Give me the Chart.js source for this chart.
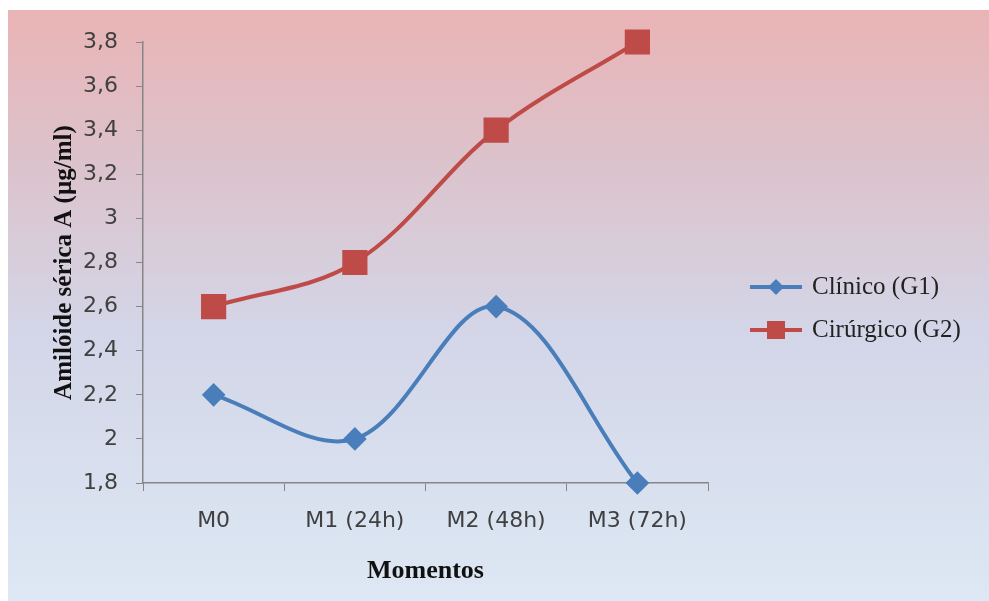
<!DOCTYPE html>
<html>
<head>
<meta charset="utf-8">
<script src="https://cdn.jsdelivr.net/npm/chart.js@4"></script>
<style>
  html, body { margin:0; padding:0; background:#fff; }
  #wrap { width:989px; height:601px; }
</style>
</head>
<body>
<div id="wrap"><canvas id="myChart" width="989" height="601"></canvas></div>
<script>
// data
const categories = ["M0", "M1 (24h)", "M2 (48h)", "M3 (72h)"];
const clinico = [2.2, 2.0, 2.6, 1.8];
const cirurgico = [2.6, 2.8, 3.4, 3.8];
const seriesNames = ["Clínico (G1)", "Cirúrgico (G2)"];
const yMin = 1.8, yMax = 3.8, yStep = 0.2;

const blue = "#4a7ebb";
const red = "#be4b48";

// gradient panel behind everything
const bgPlugin = {
  id: "bg",
  beforeDraw(chart){
    const ctx = chart.ctx;
    ctx.save();
    ctx.fillStyle = "#fff";
    ctx.fillRect(0, 0, chart.width, chart.height);
    const g = ctx.createLinearGradient(0, 10, 0, chart.height);
    g.addColorStop(0, "#eab4b5");
    g.addColorStop(0.25, "#dcc2cb");
    g.addColorStop(0.55, "#d3d6e8");
    g.addColorStop(1, "#dde8f4");
    ctx.fillStyle = g;
    ctx.fillRect(8, 10, chart.width - 8, chart.height - 10);
    ctx.restore();
  }
};

// legend with a line through the marker, like the original
const legendPlugin = {
  id: "sideLegend",
  afterDraw(chart){
    const ctx = chart.ctx;
    const x0 = 750, rows = [287, 330];
    chart.data.datasets.forEach((ds, i) => {
      const y = rows[i];
      ctx.save();
      ctx.strokeStyle = ds.borderColor;
      ctx.lineWidth = 4;
      ctx.beginPath();
      ctx.moveTo(x0, y);
      ctx.lineTo(x0 + 52, y);
      ctx.stroke();
      ctx.fillStyle = ds.pointBackgroundColor;
      ctx.beginPath();
      if (ds.pointStyle === "rect") {
        ctx.rect(x0 + 26 - 9, y - 9, 18, 18);
      } else {
        ctx.moveTo(x0 + 26, y - 8);
        ctx.lineTo(x0 + 34, y);
        ctx.lineTo(x0 + 26, y + 8);
        ctx.lineTo(x0 + 18, y);
        ctx.closePath();
      }
      ctx.fill();
      ctx.fillStyle = "#222";
      ctx.font = "25px 'Liberation Serif'";
      ctx.textBaseline = "middle";
      ctx.fillText(ds.label, x0 + 62, y);
      ctx.restore();
    });
  }
};

function fmt(v){
  return String(Number(v.toFixed(1))).replace(".", ",");
}

const ctx = document.getElementById("myChart").getContext("2d");
new Chart(ctx, {
  type: "line",
  data: {
    labels: categories,
    datasets: [
      {
        label: seriesNames[0],
        data: clinico,
        borderColor: blue,
        backgroundColor: blue,
        pointBackgroundColor: blue,
        pointBorderColor: blue,
        pointStyle: "rectRot",
        pointRadius: 9,
        borderWidth: 4,
        tension: 0.35,
        clip: false
      },
      {
        label: seriesNames[1],
        data: cirurgico,
        borderColor: red,
        backgroundColor: red,
        pointBackgroundColor: red,
        pointBorderColor: red,
        pointStyle: "rect",
        pointRadius: 15,
        borderWidth: 4,
        tension: 0.35,
        clip: false
      }
    ]
  },
  options: {
    responsive: false,
    animation: false,
    layout: { padding: { top: 42, right: 281, left: 0, bottom: 0 } },
    plugins: { legend: { display: false }, tooltip: { enabled: false } },
    scales: {
      x: {
        offset: true,
        afterFit(s){ s.height = 118; },
        grid: { display: true, drawOnChartArea: false, offset: true, tickLength: 8, color: "#868686" },
        border: { color: "#868686", width: 1.5 },
        ticks: { color: "#404040", font: { family: "DejaVu Sans", size: 22 }, padding: 17 },
        title: {
          display: true, text: "Momentos", color: "#111",
          font: { family: "Liberation Serif", size: 26, weight: "bold" },
          padding: { top: 0, bottom: 14 }
        }
      },
      y: {
        min: yMin, max: yMax,
        afterFit(s){ s.width = 143; },
        grid: { display: true, drawOnChartArea: false, tickLength: 7, color: "#868686" },
        border: { color: "#868686", width: 1.5 },
        ticks: {
          stepSize: yStep, color: "#404040",
          font: { family: "DejaVu Sans", size: 22 }, padding: 18,
          callback: v => fmt(v)
        },
        title: {
          display: true, text: "Amilóide sérica A (µg/ml)", color: "#111",
          font: { family: "Liberation Serif", size: 25, weight: "bold" },
          padding: { top: 50, bottom: 0 }
        }
      }
    }
  },
  plugins: [bgPlugin, legendPlugin]
});
</script>
</body>
</html>
